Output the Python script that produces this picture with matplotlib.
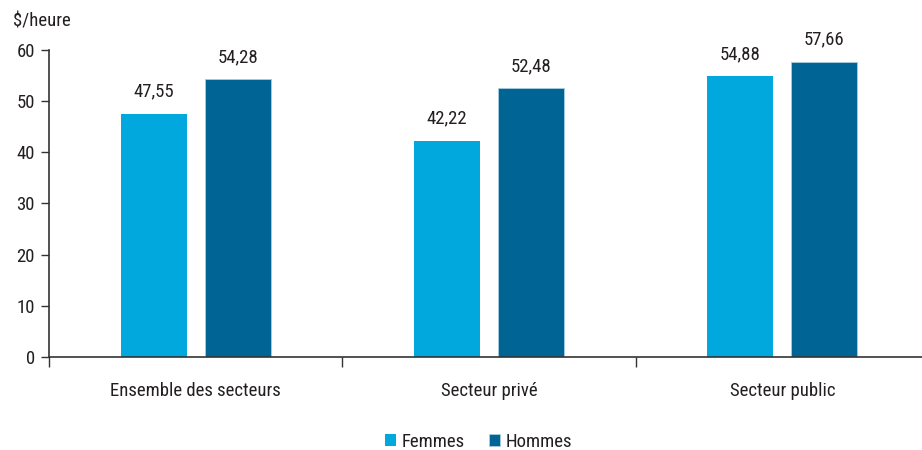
import numpy as np
import matplotlib.pyplot as plt
from matplotlib import font_manager

# -------------------------------------------------------
# Data.
# -------------------------------------------------------
categories = ["Ensemble des secteurs", "Secteur privé", "Secteur public"]
femmes = [47.55, 42.22, 54.88]
hommes = [54.28, 52.48, 57.66]
series_names = ["Femmes", "Hommes"]
y_ticks = [0, 10, 20, 30, 40, 50, 60]

# -------------------------------------------------------
# Plot setup.
# -------------------------------------------------------
names = {f.name for f in font_manager.fontManager.ttflist}
family = "Roboto"
for cand in ["Roboto Condensed", "Liberation Sans Narrow", "Arial Narrow",
             "Archivo Narrow", "Barlow Condensed", "Asap Condensed"]:
    if cand in names:
        family = cand
        break
plt.rcParams["font.family"] = [family, "DejaVu Sans"]
fs = 13.5
text_color = "#231f20"

c_f = "#00a8de"
c_h = "#006594"

fig = plt.figure(figsize=(9.22, 4.5), dpi=100)
ax = fig.add_axes([0.0531, 0.2067, 0.9469, 0.6823])

x = np.arange(len(categories))
w = 0.225
off = 0.143
bf = ax.bar(x - off, femmes, w, color=c_f, label=series_names[0])
bh = ax.bar(x + off, hommes, w, color=c_h, edgecolor="#a9cde0",
            linewidth=0.6, label=series_names[1])

def fmt(v):
    return f"{v:.2f}".replace(".", ",")

for bars, vals in ((bf, femmes), (bh, hommes)):
    for b, v in zip(bars, vals):
        ax.annotate(
            fmt(v),
            (b.get_x() + b.get_width() / 2, v),
            xytext=(0, 9.5),
            textcoords="offset points",
            ha="center",
            va="bottom",
            fontsize=fs,
            color=text_color,
            )

ax.set_ylim(0, 60)
ax.set_xlim(-0.5, 2.476)
ax.set_yticks(y_ticks)
ax.tick_params(axis="y", length=6, width=1, colors="#333333",
               labelcolor=text_color, labelsize=fs, pad=4)

# category boundaries as ticks, labels on minor ticks
ax.set_xticks([-0.5, 0.5, 1.5])
ax.set_xticklabels([])
ax.tick_params(axis="x", which="major", direction="out", length=7,
               width=1, colors="#333333")
ax.set_xticks(x, minor=True)
ax.set_xticklabels(categories, minor=True)
ax.tick_params(axis="x", which="minor", length=0, pad=18,
               labelcolor=text_color, labelsize=fs)

for s in ("top", "right"):
    ax.spines[s].set_visible(False)
for s in ("left", "bottom"):
    ax.spines[s].set_color("#333333")
    ax.spines[s].set_linewidth(1.2)

fig.text(0.014, 0.953, "$/heure", ha="left", va="center",
         fontsize=fs, color=text_color)

fig.legend(
    handles=[bf, bh],
    labels=series_names,
    loc="center",
    bbox_to_anchor=(0.519, 0.018),
    bbox_transform=fig.transFigure,
    ncol=2,
    frameon=False,
    fontsize=fs,
    handlelength=0.6,
    handleheight=0.6,
    handletextpad=0.3,
    columnspacing=1.3,
    labelcolor=text_color,
    )

fig.savefig("out.png", dpi=100)
